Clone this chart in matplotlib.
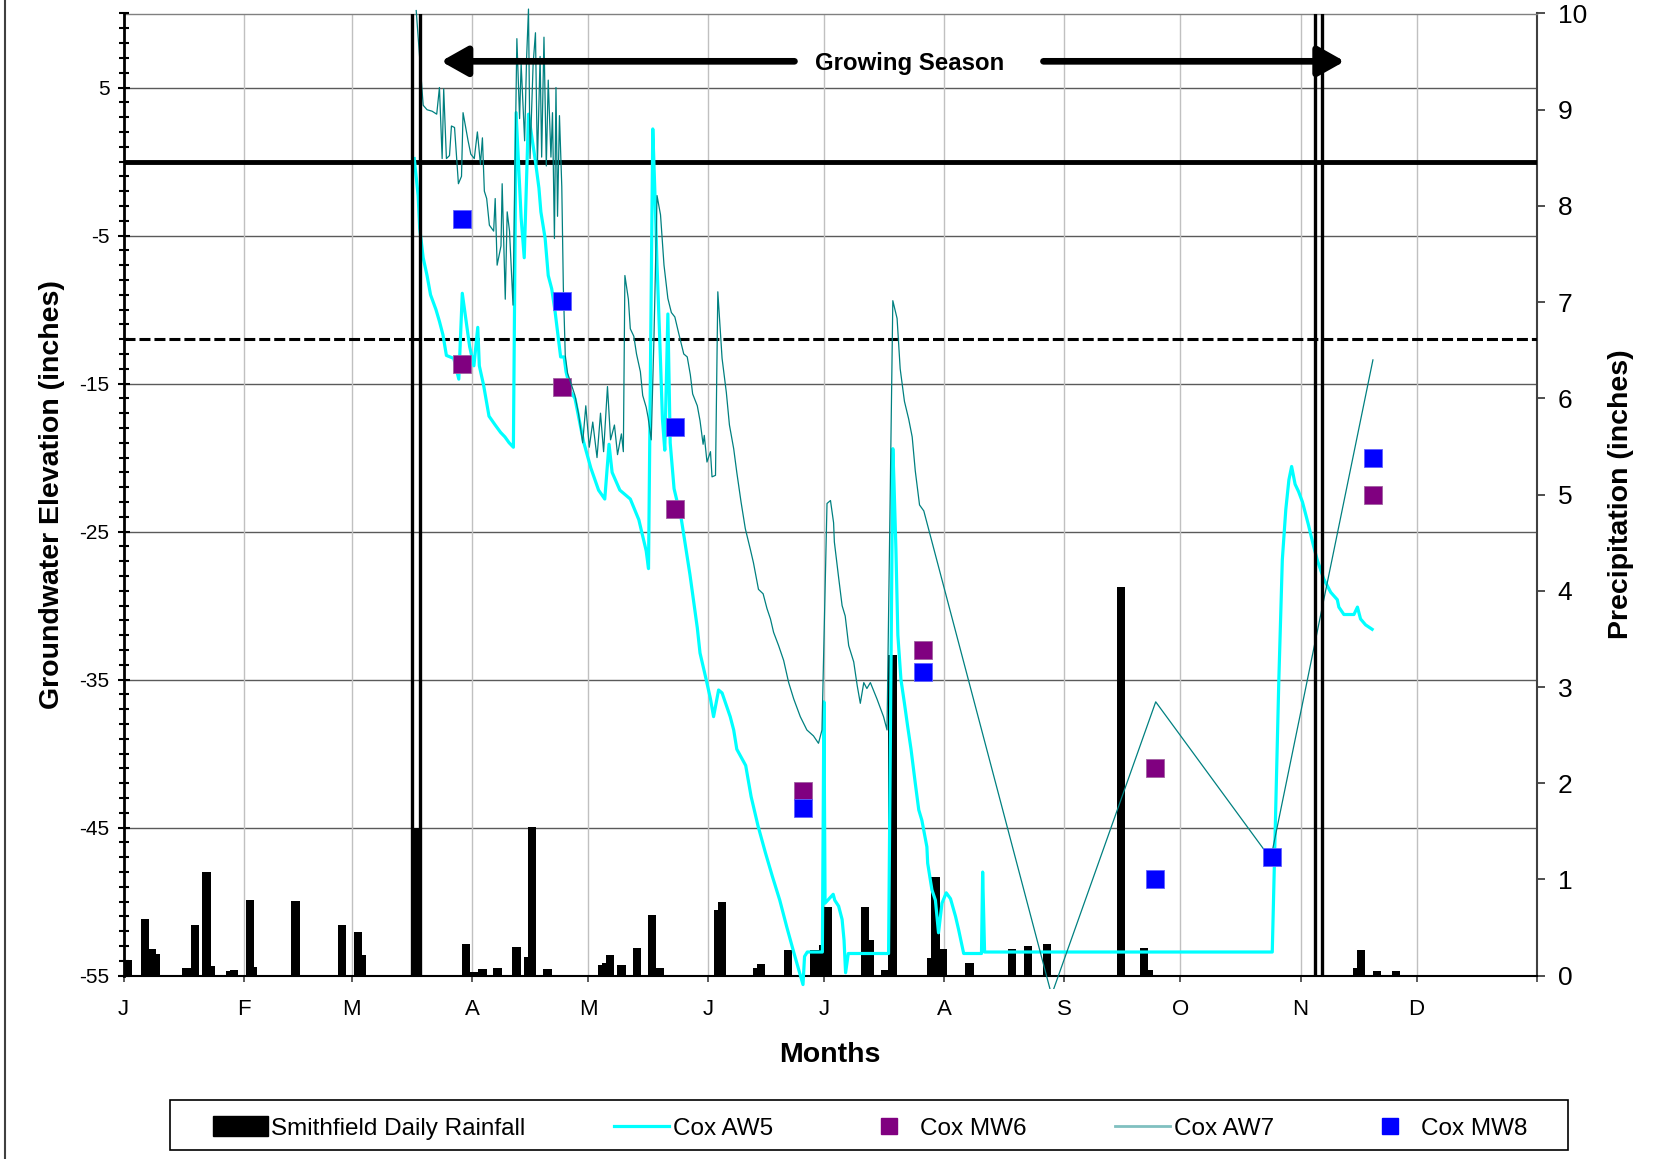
import matplotlib
matplotlib.use("Agg")
import matplotlib.pyplot as plt
from matplotlib.lines import Line2D
from matplotlib.patches import Patch, Rectangle
import numpy as np

plt.rcParams['font.family'] = ['Liberation Sans', 'DejaVu Sans']
plt.rcParams['axes.unicode_minus'] = False

# x axis: day of year
month_starts = [0, 31, 59, 90, 120, 151, 181, 212, 243, 273, 304, 334, 365]
month_labels = ['J', 'F', 'M', 'A', 'M', 'J', 'J', 'A', 'S', 'O', 'N', 'D', '']

# Smithfield daily rainfall (inches)
rain_day = [1.2, 5.5, 7.4, 8.4, 16.3, 18.4, 21.4, 22.5, 27.5, 28.5, 32.6, 33.5, 44.4,
            56.5, 60.5, 61.5, 75.5, 88.5, 90.5, 92.7, 96.6, 101.5, 104.6, 105.5, 109.5,
            123.5, 124.6, 125.6, 128.6, 132.6, 136.5, 138.5, 153.5, 154.5, 163.6, 164.6,
            171.6, 178.5, 180.6, 181.8, 191.6, 192.7, 196.6, 198.6, 208.6, 209.7, 211.7,
            218.5, 229.5, 233.6, 238.6, 257.7, 263.6, 264.7, 318.6, 319.7, 323.7, 328.7]
rain_in = [0.16, 0.59, 0.28, 0.23, 0.08, 0.53, 1.08, 0.10, 0.05, 0.06, 0.79, 0.09, 0.78,
           0.53, 0.45, 0.22, 1.53, 0.33, 0.04, 0.07, 0.08, 0.30, 0.19, 1.55, 0.07,
           0.11, 0.13, 0.22, 0.11, 0.29, 0.63, 0.08, 0.68, 0.77, 0.08, 0.12,
           0.27, 0.27, 0.32, 0.71, 0.71, 0.37, 0.06, 3.33, 0.18, 1.03, 0.28,
           0.13, 0.28, 0.31, 0.33, 4.04, 0.29, 0.06, 0.08, 0.27, 0.05, 0.05]

# Cox AW5 groundwater elevation (inches)
aw5_day = [75.1, 76.1, 76.5, 77.4, 78.4, 79.3, 80.7, 81.6, 82.5, 83.4, 85.3, 86.6, 87.5,
           88.4, 89.4, 90.5, 91.5, 91.9, 93.0, 94.4, 96.0, 97.4, 98.5, 99.6, 100.7,
           101.4, 102.7, 103.5, 104.6, 106.4, 107.3, 107.8, 108.9, 109.7, 110.6, 111.5,
           112.1, 112.9, 113.8, 114.3, 115.6, 116.6, 117.5, 118.8, 120.7, 122.7, 124.3,
           125.4, 126.2, 128.2, 130.9, 133.1, 135.0, 135.6, 136.7, 137.3, 137.8, 138.5,
           139.2, 139.8, 140.6, 141.2, 142.2, 144.1, 146.3, 148.2, 148.9, 150.5, 151.6,
           152.4, 153.7, 154.6, 155.9, 156.7, 157.6, 158.4, 160.7, 162.1, 163.9, 165.8,
           167.6, 169.5, 171.3, 173.2, 175.5, 175.9, 176.6, 180.5, 180.9, 181.2, 181.9,
           183.3, 183.7, 184.7, 185.6, 186.1, 186.5, 187.2, 197.6, 198.7, 199.0, 199.5,
           200.0, 200.8, 201.7, 202.5, 203.4, 204.5, 205.4, 206.2, 207.5, 207.7, 208.8,
           209.7, 210.5, 211.4, 212.5, 213.6, 214.9, 215.7, 216.6, 217.0, 221.6, 221.9,
           222.4, 296.7, 298.4, 299.3, 300.2, 301.0, 301.7, 302.6, 303.5, 304.5, 306.0,
           307.2, 308.3, 310.0, 311.8, 313.5, 313.9, 315.2, 317.8, 318.7, 319.5, 320.8,
           322.5]
aw5_val = [0.2, -2.3, -4.5, -6.5, -7.7, -9.0, -10.0, -10.8, -11.7, -13.1, -13.3, -14.7, -8.9,
           -10.6, -12.5, -13.8, -11.2, -13.8, -15.1, -17.2, -17.8, -18.3, -18.6, -19.0, -19.3,
           3.3, -3.8, -6.5, 3.2, 0.0, -1.8, -3.4, -5.2, -7.7, -8.6, -10.2,
           -11.5, -13.2, -13.2, -14.2, -15.6, -16.0, -17.2, -18.9, -20.7, -22.2, -22.8,
           -19.1, -21.0, -22.2, -22.8, -24.2, -26.3, -27.5, 2.2, -2.5, -7.0, -12.0,
           -17.4, -19.5, -10.3, -19.0, -22.1, -24.2, -27.9, -31.5, -33.2, -35.0, -36.3,
           -37.5, -35.7, -35.9, -36.9, -37.5, -38.4, -39.7, -40.8, -42.9, -44.9, -46.7,
           -48.3, -49.9, -51.7, -53.5, -55.6, -53.7, -53.4, -53.4, -36.5, -50.1, -49.9,
           -49.5, -49.9, -50.3, -51.2, -52.6, -54.8, -53.5, -53.5, -19.4, -21.7, -26.2,
           -32.0, -35.0, -36.6, -38.1, -39.7, -42.0, -43.8, -44.5, -46.3, -47.4, -49.2,
           -49.9, -52.1, -50.1, -49.4, -49.8, -51.0, -51.9, -53.0, -53.5, -53.5, -48.0,
           -53.4, -53.4, -35.0, -26.9, -23.5, -21.5, -20.6, -21.8, -22.3, -23.0, -24.5,
           -25.8, -26.9, -28.2, -29.1, -29.6, -30.1, -30.6, -30.6, -30.1, -30.9, -31.3,
           -31.6]

# Cox AW7 groundwater elevation (inches)
aw7_day = [75.6, 76.5, 77.4, 78.4, 79.7, 80.9, 81.6, 82.3, 82.7, 83.4, 84.2, 84.7, 85.5,
           86.5, 87.3, 87.7, 89.0, 89.7, 90.6, 91.4, 92.2, 92.7, 93.2, 93.8, 94.5, 95.6,
           96.0, 96.5, 97.5, 97.8, 98.6, 99.1, 99.7, 100.6, 101.6, 102.3, 102.7, 103.6,
           104.1, 104.6, 105.0, 105.8, 106.4, 106.9, 107.6, 108.0, 108.6, 109.2, 109.7,
           110.4, 110.8, 111.3, 111.7, 112.1, 112.6, 113.2, 113.6, 114.1, 114.7, 115.7,
           116.6, 117.5, 118.6, 119.4, 120.3, 121.2, 122.3, 123.2, 124.0, 125.0, 125.8,
           126.8, 127.6, 128.6, 129.1, 129.5, 130.4, 130.9, 131.8, 132.5, 133.5, 134.1,
           135.0, 135.5, 136.3, 137.0, 137.8, 138.7, 139.6, 140.6, 141.5, 142.4, 143.3,
           144.7, 145.6, 146.4, 147.0, 148.2, 148.9, 149.7, 150.0, 150.7, 151.6, 152.0,
           152.9, 153.5, 154.6, 155.7, 156.5, 157.6, 158.4, 159.5, 160.6, 161.9, 162.7,
           164.0, 165.2, 166.2, 167.1, 167.9, 169.2, 170.5, 171.8, 173.1, 174.8, 176.5,
           178.2, 179.5, 180.4, 181.7, 182.6, 183.4, 183.6, 184.7, 185.6, 186.4, 187.3,
           188.6, 189.5, 190.3, 191.2, 192.0, 192.9, 194.6, 196.3, 197.2, 198.7, 199.8,
           200.6, 201.7, 202.8, 203.7, 204.5, 205.6, 206.7, 239.7, 266.6, 296.3, 322.7]
aw7_val = [10.2, 7.0, 3.8, 3.5, 3.4, 3.2, 5.0, 0.2, 4.9, 0.2, 0.4, 2.4, 2.3,
           -1.5, -1.0, 3.3, 1.4, 0.5, 0.2, 2.0, -0.2, 1.6, -2.0, -2.5, -4.3, -4.7,
           -2.5, -7.0, -5.7, -1.5, -9.3, -3.4, -4.7, -9.7, 8.3, 2.9, 6.6, 1.4,
           6.9, 10.3, 0.2, 6.6, 8.7, -0.2, 7.1, 0.3, 8.4, -0.3, 5.5,
           0.3, 3.3, -5.2, 5.0, -3.7, 3.1, -1.7, -8.5, -13.1, -14.3, -15.1,
           -15.8, -17.0, -19.0, -16.5, -19.3, -17.6, -20.0, -17.0, -19.6, -15.2, -18.8,
           -17.8, -19.8, -18.4, -19.6, -7.7, -9.3, -11.3, -11.8, -13.0, -14.2, -15.8,
           -16.6, -17.3, -18.8, -12.0, -2.3, -3.6, -7.0, -9.25, -10.2, -10.5, -11.5,
           -13.0, -13.2, -14.4, -15.7, -16.5, -17.5, -19.1, -18.5, -20.3, -19.6, -21.3,
           -21.2, -8.8, -13.3, -15.6, -17.8, -19.4, -21.0, -23.0, -24.8, -26.2, -27.1,
           -28.9, -29.2, -30.2, -30.9, -31.8, -32.7, -33.7, -35.2, -36.3, -37.5, -38.4,
           -38.8, -39.3, -38.4, -23.1, -22.9, -24.4, -25.7, -28.1, -30.0, -30.7, -32.7,
           -33.8, -35.4, -36.6, -35.2, -35.6, -35.2, -36.3, -37.5, -38.4, -9.4, -10.6,
           -14.0, -16.2, -17.4, -18.6, -20.9, -23.2, -23.6, -56.3, -36.5, -47.1, -13.4]

# monitoring wells (inches)
mw6_day = [87.5, 113.3, 142.5, 175.5, 206.5, 266.5, 322.6]
mw6_val = [-13.7, -15.2, -23.5, -42.5, -33.0, -41.0, -22.5]
mw8_day = [87.5, 113.3, 142.5, 175.5, 206.5, 266.5, 296.6, 322.6]
mw8_val = [-3.9, -9.4, -17.9, -43.7, -34.5, -48.5, -47.0, -20.0]

# growing season boundaries (day of year) and reference levels
season_bounds = [75.5, 308.65]
ref_levels = [0, -12]

gw_major = np.arange(-55, 6, 10)

fig = plt.figure(figsize=(16.69, 11.59), dpi=100)
rect = [123.5 / 1669, 1 - 975.7 / 1159, 1413.2 / 1669, 962.2 / 1159]
ax_rain = fig.add_axes(rect)
ax = ax_rain.twinx()

ax.set_xlim(0, 365)
ax.set_ylim(-55, 10)
ax_rain.set_ylim(0, 10)

# grid behind the bars
for v in gw_major:
    ax_rain.plot([0, 1], [v, v], transform=ax.get_yaxis_transform(),
                 color='#5a5a5a', lw=1, zorder=0.5)
for d in month_starts[1:-1]:
    ax_rain.axvline(d, color='#c0c0c0', lw=1, zorder=0.5)

ax_rain.bar(rain_day, rain_in, width=2.15, color='black', zorder=2)

ax_rain.set_xlim(0, 365)
ax_rain.set_ylim(0, 10)

clip = Rectangle((0, -0.0135), 1, 1.02, transform=ax.transAxes)

ax.axhline(ref_levels[0], color='black', lw=3.5, zorder=3)
ax.axhline(ref_levels[1], color='black', lw=2.2, ls=(0, (3.6, 1.3)), zorder=3)

l5, = ax.plot(aw5_day, aw5_val, color='#00ffff', lw=2.3, zorder=4)
l5.set_clip_path(clip)
ax.plot(mw6_day, mw6_val, ls='none', marker='s', ms=13.5, color='#800080',
        mec='#a060a0', mew=0.6, zorder=5)
l7, = ax.plot(aw7_day, aw7_val, color='#008080', lw=0.9, zorder=5)
l7.set_clip_path(clip)
ax.plot(mw8_day, mw8_val, ls='none', marker='s', ms=13.5, color='#0000ff',
        mec='#6060ff', mew=0.6, zorder=6)

for d in season_bounds:
    for off in (-1.0, 1.0):
        ax.axvline(d + off, color='black', lw=2.4, zorder=7)

# growing season arrow
arrow_y = 6.77
ax.annotate('', xy=(82.0, arrow_y), xytext=(173.3, arrow_y),
            arrowprops=dict(arrowstyle='-|>,head_length=0.8,head_width=0.45',
                            lw=4.8, color='black', shrinkA=0, shrinkB=0,
                            mutation_scale=20), zorder=8)
ax.annotate('', xy=(315.4, arrow_y), xytext=(237.6, arrow_y),
            arrowprops=dict(arrowstyle='-|>,head_length=0.8,head_width=0.45',
                            lw=4.8, color='black', shrinkA=0, shrinkB=0,
                            mutation_scale=20), zorder=8)
ax.text(203, arrow_y, 'Growing Season', ha='center', va='center_baseline',
        fontsize=17.3, fontweight='bold', zorder=8)

# axes styling
ax.yaxis.tick_left()
ax.yaxis.set_label_position('left')
ax.set_yticks(gw_major)
ax.set_yticks(np.arange(-55, 11, 1), minor=True)
ax.tick_params(axis='y', which='major', direction='inout', length=8, width=1.5,
               labelsize=15, pad=6, left=True, right=False, labelleft=True,
               labelright=False)
ax.tick_params(axis='y', which='minor', direction='inout', length=6.5, width=1.5,
               left=True, right=False)
for s in ['top', 'right', 'bottom']:
    ax.spines[s].set_visible(False)
ax.spines['left'].set_color('black')
ax.spines['left'].set_linewidth(2)
ax.set_ylabel('Groundwater Elevation (inches)', fontsize=20.5, fontweight='bold')
ax.yaxis.set_label_coords(-0.0415, 0.5)

ax_rain.yaxis.tick_right()
ax_rain.yaxis.set_label_position('right')
ax_rain.set_yticks(np.arange(0, 11, 1))
ax_rain.tick_params(axis='y', direction='out', length=6, width=1.3, color='#404040',
                    labelsize=19, pad=9, left=False, labelleft=False)
ax_rain.set_xticks(month_starts)
ax_rain.set_xticklabels(month_labels)
ax_rain.tick_params(axis='x', direction='out', length=4, width=1.2, color='#404040',
                    labelsize=16, pad=13)
ax_rain.spines['left'].set_visible(False)
ax_rain.spines['bottom'].set_color('black')
ax_rain.spines['bottom'].set_linewidth(1.5)
ax_rain.spines['top'].set_color('#808080')
ax_rain.spines['top'].set_linewidth(1)
ax_rain.spines['right'].set_color('#404040')
ax_rain.spines['right'].set_linewidth(1.5)
ax_rain.set_ylabel('Precipitation (inches)', fontsize=20.5, fontweight='bold')
ax_rain.yaxis.set_label_coords(1.0505, 0.5)
ax_rain.set_xlabel('Months', fontsize=20.5, fontweight='bold')
ax_rain.xaxis.set_label_coords(0.5, -0.069)

# legend (frame drawn separately so the entries can sit inside with margins)
handles = [Patch(facecolor='black', edgecolor='black'),
           Line2D([], [], color='#00ffff', lw=2.3),
           Line2D([], [], ls='none', marker='s', ms=11, color='#800080'),
           Line2D([], [], color='#80c0c0', lw=2.0),
           Line2D([], [], ls='none', marker='s', ms=11, color='#0000ff')]
labels = ['Smithfield Daily Rainfall', 'Cox AW5', 'Cox MW6', 'Cox AW7', 'Cox MW8']
fig.legend(handles, labels, loc='center',
           bbox_to_anchor=(203 / 1669, 6 / 1159, 1334 / 1669, 50 / 1159),
           mode='expand', ncol=5, fontsize=17.5, handlelength=2.26,
           handleheight=0.86, handletextpad=0.15, borderpad=0.4,
           borderaxespad=0, frameon=False)
fig.add_artist(Rectangle((170 / 1669, 9 / 1159), 1398 / 1669, 50 / 1159,
                         transform=fig.transFigure, fill=False,
                         edgecolor='black', lw=1.2))

fig.add_artist(Line2D([5 / 1669, 5 / 1669], [0, 1], transform=fig.transFigure,
                      color='#404040', lw=1.5))

fig.savefig('out.png', dpi=100)
